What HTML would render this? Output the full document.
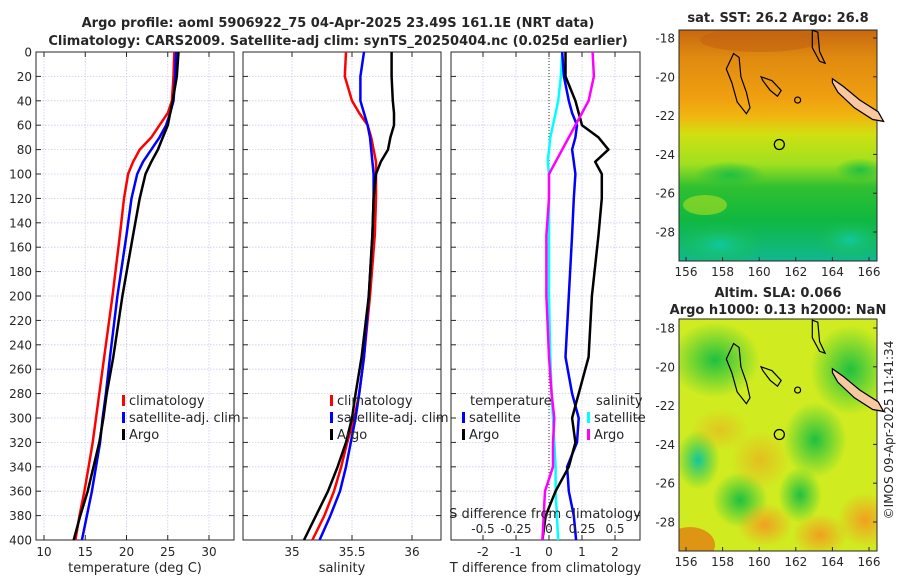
<!DOCTYPE html>
<html><head><meta charset="utf-8"><style>
body{margin:0;background:#fff}
svg text{font-family:"DejaVu Sans","Liberation Sans",sans-serif;fill:#262626}
</style></head><body>
<svg id="c" width="900" height="580" viewBox="0 0 900 580" xmlns="http://www.w3.org/2000/svg">
<defs>
<linearGradient id="sstg" x1="0" y1="0" x2="0" y2="1">
<stop offset="0" stop-color="#c86810"/><stop offset="0.12" stop-color="#e08a10"/><stop offset="0.3" stop-color="#f0a010"/><stop offset="0.38" stop-color="#f0b810"/><stop offset="0.45" stop-color="#d0e010"/><stop offset="0.58" stop-color="#a0e020"/><stop offset="0.68" stop-color="#30c030"/><stop offset="0.82" stop-color="#10b840"/><stop offset="1" stop-color="#10b890"/>
</linearGradient>
<radialGradient id="gb"><stop offset="0" stop-color="#20c040"/><stop offset="1" stop-color="#20c040" stop-opacity="0"/></radialGradient>
<radialGradient id="ob"><stop offset="0" stop-color="#f0a020"/><stop offset="1" stop-color="#f0a020" stop-opacity="0"/></radialGradient>
<radialGradient id="tb"><stop offset="0" stop-color="#10c8a0"/><stop offset="1" stop-color="#20c040" stop-opacity="0"/></radialGradient>
<clipPath id="m1"><rect x="679" y="30" width="198" height="231"/></clipPath>
<clipPath id="m2"><rect x="679" y="319" width="198" height="232"/></clipPath>
</defs>
<text x="338" y="27" text-anchor="middle" font-size="13" font-weight="bold">Argo profile: aoml 5906922_75 04-Apr-2025 23.49S 161.1E (NRT data)</text>
<text x="338" y="45" text-anchor="middle" font-size="13" font-weight="bold">Climatology: CARS2009. Satellite-adj clim: synTS_20250404.nc (0.025d earlier)</text>
<g id="plots"></g>
<g>
<text x="778" y="22" text-anchor="middle" font-size="13" font-weight="bold">sat. SST: 26.2 Argo: 26.8</text>
<g clip-path="url(#m1)">
<rect x="679" y="30" width="198" height="231" fill="url(#sstg)"/>
<ellipse cx="730" cy="175" rx="35" ry="14" fill="url(#gb)"/>
<ellipse cx="860" cy="170" rx="25" ry="12" fill="url(#gb)"/>
<ellipse cx="705" cy="205" rx="22" ry="10" fill="#b0e020" opacity="0.6"/>
<ellipse cx="720" cy="245" rx="45" ry="22" fill="url(#tb)"/>
<ellipse cx="850" cy="240" rx="35" ry="20" fill="url(#tb)"/>
<ellipse cx="760" cy="40" rx="60" ry="12" fill="#c06010" opacity="0.5"/>
</g>
<rect x="679" y="30" width="198" height="231" fill="none" stroke="#262626" stroke-width="1"/>
</g>
<g>
<text x="778" y="297" text-anchor="middle" font-size="13" font-weight="bold">Altim. SLA: 0.066</text>
<text x="778" y="314" text-anchor="middle" font-size="13" font-weight="bold">Argo h1000: 0.13 h2000: NaN</text>
<g clip-path="url(#m2)">
<rect x="679" y="319" width="198" height="232" fill="#d0ec20"/>
<ellipse cx="715" cy="360" rx="45" ry="38" fill="url(#gb)"/>
<ellipse cx="850" cy="370" rx="40" ry="45" fill="url(#gb)"/>
<ellipse cx="815" cy="440" rx="32" ry="38" fill="url(#gb)"/>
<ellipse cx="698" cy="460" rx="22" ry="30" fill="url(#tb)"/>
<ellipse cx="740" cy="500" rx="28" ry="28" fill="url(#gb)"/>
<ellipse cx="800" cy="495" rx="22" ry="28" fill="url(#gb)"/>
<ellipse cx="720" cy="430" rx="30" ry="22" fill="url(#ob)" opacity="0.5"/>
<ellipse cx="760" cy="460" rx="30" ry="30" fill="url(#ob)" opacity="0.6"/>
<ellipse cx="765" cy="525" rx="28" ry="22" fill="url(#ob)"/>
<ellipse cx="820" cy="535" rx="28" ry="22" fill="url(#ob)"/>
<ellipse cx="865" cy="520" rx="28" ry="28" fill="url(#ob)"/>
<ellipse cx="690" cy="545" rx="25" ry="18" fill="#e08010" opacity="0.8"/>
</g>
<rect x="679" y="319" width="198" height="232" fill="none" stroke="#262626" stroke-width="1"/>
</g>
<text transform="translate(893,430) rotate(-90)" text-anchor="middle" font-size="12">©IMOS 09-Apr-2025 11:41:34</text>
</svg>
<script>
const NS='http://www.w3.org/2000/svg';
const depths=[0,20,40,50,60,70,80,90,100,120,150,200,250,280,300,320,340,360,380,400];
const tempClim=[25.8,25.7,25.5,25.0,24.0,23.0,21.6,20.8,20.2,19.7,19.2,18.3,17.3,16.7,16.3,15.9,15.4,14.9,14.3,13.8];
const tempSat=[26.0,25.9,25.7,25.3,24.8,24.0,23.0,22.0,21.3,20.6,20.0,18.9,18.0,17.5,17.1,16.8,16.3,15.8,15.2,14.6];
const tempArgo=[26.3,26.1,25.6,25.3,25.0,24.4,23.8,23.0,22.3,21.6,20.8,19.5,18.4,17.6,17.2,16.7,16.0,15.3,14.4,13.6];
const salClim=[35.45,35.44,35.5,35.56,35.63,35.66,35.68,35.7,35.7,35.7,35.69,35.65,35.6,35.56,35.52,35.46,35.41,35.35,35.27,35.17];
const salSat=[35.6,35.57,35.57,35.6,35.63,35.65,35.66,35.67,35.68,35.68,35.67,35.64,35.6,35.56,35.53,35.49,35.45,35.4,35.32,35.23];
const salArgo=[35.83,35.83,35.84,35.85,35.85,35.82,35.8,35.74,35.7,35.68,35.67,35.64,35.58,35.53,35.5,35.45,35.38,35.3,35.2,35.1];
const tdSat=[0.4,0.45,0.6,0.7,0.85,0.8,0.7,0.75,0.8,0.75,0.7,0.6,0.5,0.7,0.9,0.85,0.55,0.6,0.75,0.82];
const tdArgo=[0.5,0.5,0.8,0.9,1.0,1.5,1.8,1.4,1.6,1.6,1.5,1.3,1.2,0.9,0.7,0.8,0.6,0.2,-0.1,-0.2];
const sdSat=[0.1,0.09,0.07,0.05,0.03,0.01,0.0,-0.01,0.0,0.0,0.0,0.0,0.01,0.02,0.03,0.04,0.05,0.05,0.06,0.07];
const sdArgo=[0.33,0.34,0.3,0.25,0.2,0.15,0.1,0.05,0.0,0.0,-0.02,-0.02,0.0,0.02,0.04,0.03,0.03,-0.03,-0.04,-0.05];
const depthTicks=[0,20,40,60,80,100,120,140,160,180,200,220,240,260,280,300,320,340,360,380,400];
const tempTicks=[10,15,20,25,30];
const salTicks=[35,35.5,36];
const tdTicks=[-2,-1,0,1,2];
const sdTicks=[-0.5,-0.25,0,0.25,0.5];
const sdTickLabels=['-0.5','-0.25','0','0.25','0.5'];

const Y0=52,Y1=540;
const yD=d=>Y0+(d/400)*(Y1-Y0);
const g=document.getElementById('plots');
function el(t,a,p){const e=document.createElementNS(NS,t);for(const k in a)e.setAttribute(k,a[k]);(p||g).appendChild(e);return e;}
function panel(name,x0,x1,xs,ticks,labels,xlabel,showY){
  const grp=el('g',{});
  
  
  depthTicks.forEach(d=>{el('line',{x1:x0,x2:x1,y1:yD(d),y2:yD(d),stroke:'#c8cde8','stroke-width':0.8,'stroke-dasharray':'1.5,1.5'},grp);
    el('line',{x1:x0,x2:x0+5,y1:yD(d),y2:yD(d),stroke:'#262626'},grp);el('line',{x1:x1-5,x2:x1,y1:yD(d),y2:yD(d),stroke:'#262626'},grp);
    if(showY){const t=el('text',{x:x0-4,y:yD(d)+4.5,'text-anchor':'end','font-size':12},grp);t.textContent=d;
      
      }});
  ticks.forEach((v,i)=>{const x=xs(v);el('line',{x1:x,x2:x,y1:Y0,y2:Y1,stroke:'#c8cde8','stroke-width':0.8,'stroke-dasharray':'1.5,1.5'},grp);
    el('line',{x1:x,x2:x,y1:Y1,y2:Y1-5,stroke:'#262626'},grp);el('line',{x1:x,x2:x,y1:Y0,y2:Y0+5,stroke:'#262626'},grp);
    const t=el('text',{x:x,y:556,'text-anchor':'middle','font-size':12},grp);t.textContent=labels[i];
    
    });
  el('rect',{x:x0,y:Y0,width:x1-x0,height:Y1-Y0,fill:'none',stroke:'#262626'},grp);
  const t=el('text',{x:(x0+x1)/2,y:572,'text-anchor':'middle','font-size':13},grp);t.textContent=xlabel;
  
  
  return grp;
}
function line(grp,vals,xs,color,name){
  const pts=vals.map((v,i)=>xs(v).toFixed(1)+','+yD(depths[i]).toFixed(1)).join(' ');
  const p=el('polyline',{points:pts,fill:'none',stroke:color,'stroke-width':2.5,'stroke-linejoin':'round'},grp);
  
  
}
function legend(grp,x,y,color,label){
  el('rect',{x:x,y:y-10,width:3,height:11,fill:color},grp);
  const t=el('text',{x:x+7,y:y,'font-size':13},grp);t.textContent=label;
  
  
}
const xT=t=>44+(t-10)*8.25;
const p1=panel('temperature-panel',36,234,xT,tempTicks,tempTicks.map(String),'temperature (deg C)',true);
line(p1,tempClim,xT,'#ff0000','temp-climatology-line');
line(p1,tempSat,xT,'#0000ff','temp-satellite-line');
line(p1,tempArgo,xT,'#000000','temp-argo-line');
legend(p1,122,405,'#ff0000','climatology');legend(p1,122,422,'#0000ff','satellite-adj. clim');legend(p1,122,439,'#000000','Argo');
const xS=s=>292+(s-35)*120;
const p2=panel('salinity-panel',243,441,xS,salTicks,['35','35.5','36'],'salinity',false);
line(p2,salClim,xS,'#ff0000','sal-climatology-line');
line(p2,salSat,xS,'#0000ff','sal-satellite-line');
line(p2,salArgo,xS,'#000000','sal-argo-line');
legend(p2,330,405,'#ff0000','climatology');legend(p2,330,422,'#0000ff','satellite-adj. clim');legend(p2,330,439,'#000000','Argo');
const xTD=d=>549+d*33;
const xSD=d=>549+d*132;
const p3=panel('difference-panel',451,640,xTD,tdTicks,tdTicks.map(String),'T difference from climatology',false);
el('line',{x1:549,x2:549,y1:Y0,y2:Y1,stroke:'#333','stroke-width':1,'stroke-dasharray':'1,2'},p3);
line(p3,sdSat,xSD,'#00ffff','sdiff-satellite-line');
line(p3,tdSat,xTD,'#0000ff','tdiff-satellite-line');
line(p3,tdArgo,xTD,'#000000','tdiff-argo-line');
line(p3,sdArgo,xSD,'#ff00ff','sdiff-argo-line');
const tt=el('text',{x:470,y:405,'font-size':13},p3);tt.textContent='temperature';
const st=el('text',{x:596,y:405,'font-size':13},p3);st.textContent='salinity';
legend(p3,462,422,'#0000ff','satellite');legend(p3,462,439,'#000000','Argo');
legend(p3,587,422,'#00ffff','satellite');legend(p3,587,439,'#ff00ff','Argo');
const sdt=el('text',{x:545,y:518,'text-anchor':'middle','font-size':13},p3);sdt.textContent='S difference from climatology';


sdTicks.forEach((v,i)=>{const t=el('text',{x:xSD(v),y:533,'text-anchor':'middle','font-size':12},p3);t.textContent=sdTickLabels[i];
  
  });
const lonTicks=[156,158,160,162,164,166];
const latTicks=[-18,-20,-22,-24,-26,-28];
function mapAxes(top,bot,lat18){
  const svg=document.getElementById('c');
  const grp=el('g',{},svg);
  
  
  const xL=l=>686+(l-156)*18.3, yL=a=>lat18+(-18-a)*19.4;
  lonTicks.forEach(l=>{el('line',{x1:xL(l),x2:xL(l),y1:bot,y2:bot-4,stroke:'#262626'},grp);
    const t=el('text',{x:xL(l),y:bot+15,'text-anchor':'middle','font-size':12},grp);t.textContent=l;
    
    });
  latTicks.forEach(a=>{el('line',{x1:877,x2:873,y1:yL(a),y2:yL(a),stroke:'#262626'},grp);
    const t=el('text',{x:675,y:yL(a)+4.5,'text-anchor':'end','font-size':12},grp);t.textContent=a;
    
    });
  const P=(pts)=>pts.map(p=>xL(p[0]).toFixed(1)+','+yL(p[1]).toFixed(1)).join(' ');
  el('polygon',{points:P([[158.2,-19.6],[158.6,-18.8],[158.9,-19.0],[159.0,-20.0],[159.3,-20.8],[159.5,-21.6],[159.3,-21.9],[158.8,-21.3],[158.5,-20.3]]),fill:'none',stroke:'#000','stroke-width':1.2},grp);
  el('polygon',{points:P([[160.1,-20.0],[160.7,-20.2],[161.2,-20.7],[161.0,-21.0],[160.6,-20.7],[160.2,-20.2]]),fill:'none',stroke:'#000','stroke-width':1.2},grp);
  el('polygon',{points:P([[162.9,-17.6],[163.2,-17.7],[163.3,-18.7],[163.6,-19.3],[163.3,-19.2],[162.9,-18.5]]),fill:'none',stroke:'#000','stroke-width':1.2},grp);
  el('polygon',{points:P([[164.0,-20.1],[164.6,-20.5],[165.5,-21.2],[166.5,-21.8],[166.8,-22.3],[166.2,-22.2],[165.2,-21.6],[164.3,-20.8],[164.0,-20.3]]),fill:'#f8c8a0',stroke:'#000','stroke-width':1.2},grp);
  el('circle',{cx:xL(162.1),cy:yL(-21.2),r:3,fill:'none',stroke:'#000','stroke-width':1.2},grp);
  el('circle',{cx:xL(161.1),cy:yL(-23.49),r:5,fill:'none',stroke:'#000','stroke-width':1.3},grp);
}
mapAxes(30,261,38);
mapAxes(319,551,328);
</script>
</body></html>
